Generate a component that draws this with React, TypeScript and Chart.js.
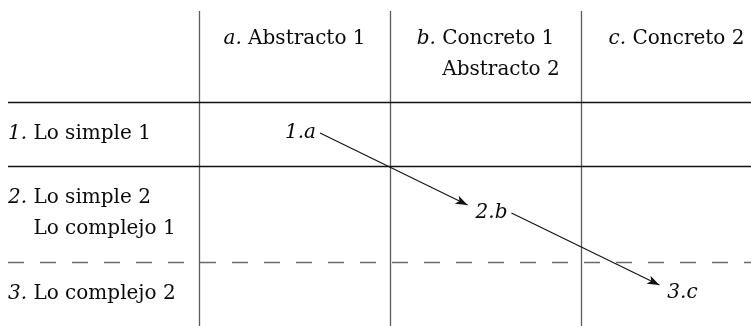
import { useEffect, useRef } from "react";
import { Chart, registerables } from "chart.js";

Chart.register(...registerables);

// ---- data ----
const columnMarks = ["a.", "b.", "c."];
const columnTitles = [["Abstracto 1"], ["Concreto 1", "Abstracto 2"], ["Concreto 2"]];
const rowMarks = ["1.", "2.", "3."];
const rowTitles = [["Lo simple 1"], ["Lo simple 2", "Lo complejo 1"], ["Lo complejo 2"]];
const pathLabels = ["1.a", "2.b", "3.c"];
const pathRows = [0, 1, 2];
const pathCols = [0, 1, 2];
const dashedAboveRow = 2;

// ---- layout ----
const W = 751;
const H = 326;
const LEFT = 8;
const COL_W = 191;
const LINE_H = 31;
const ROW_BASE = 64;
const ROW_EXTRA = 32;
const FIRST_BASE = 36.5;
const FONT_SIZE = 20;
const FAMILY = '"DejaVu Serif", serif';

const headerLines = Math.max(...columnTitles.map((t) => t.length));
const rowHeights = [headerLines, ...rowTitles.map((t) => t.length)].map(
  (n) => ROW_BASE + ROW_EXTRA * (n - 1)
);
const totalH = rowHeights.reduce((a, b) => a + b, 0);
const TOP = H - totalH;
const rowEdges: number[] = [TOP];
rowHeights.forEach((h) => rowEdges.push(rowEdges[rowEdges.length - 1] + h));

const X_MIN = -LEFT / COL_W;
const X_MAX = (W - LEFT) / COL_W;

const tablePlugin = {
  id: "tablePlugin",
  afterDraw(chart: any) {
    const ctx: CanvasRenderingContext2D = chart.ctx;
    const xs = chart.scales.x;
    const ys = chart.scales.y;
    const px = (v: number) => xs.getPixelForValue(v);
    const py = (v: number) => ys.getPixelForValue(v);
    const reg = `${FONT_SIZE}px ${FAMILY}`;
    const ita = `italic ${FONT_SIZE}px ${FAMILY}`;
    const ink = "#0a0a0a";

    ctx.save();
    // vertical lines
    ctx.strokeStyle = "#5c5c5c";
    ctx.lineWidth = 1.3;
    for (let k = 1; k <= columnMarks.length; k++) {
      const x = Math.round(px(k)) + 0.5;
      ctx.beginPath();
      ctx.moveTo(x, py(rowEdges[0] + 5));
      ctx.lineTo(x, py(H));
      ctx.stroke();
    }
    // horizontal lines
    for (let r = 1; r < rowEdges.length - 1; r++) {
      const y = Math.round(py(rowEdges[r])) + 0.5;
      const dashed = r - 1 === dashedAboveRow;
      ctx.beginPath();
      if (dashed) {
        ctx.setLineDash([16, 16]);
        ctx.strokeStyle = "#6a6a6a";
        ctx.lineWidth = 1.5;
      } else {
        ctx.setLineDash([]);
        ctx.strokeStyle = "#111";
        ctx.lineWidth = 1.3;
      }
      ctx.moveTo(px(0), y);
      ctx.lineTo(px(X_MAX), y);
      ctx.stroke();
    }
    ctx.setLineDash([]);

    ctx.fillStyle = ink;
    ctx.textBaseline = "alphabetic";
    ctx.textAlign = "left";

    const topBaselines = (top: number, n: number) => {
      const first = py(top) + FIRST_BASE;
      return Array.from({ length: n }, (_, i) => first + i * LINE_H);
    };

    // column headers (top aligned)
    columnMarks.forEach((m, i) => {
      const lines = columnTitles[i];
      ctx.font = ita;
      const mw = ctx.measureText(m + " ").width;
      ctx.font = reg;
      const lw = ctx.measureText(lines[0]).width;
      const cx = px(i + 1.5);
      const x0 = cx - (mw + lw) / 2;
      const bl = topBaselines(rowEdges[0] + 1.5, lines.length);
      ctx.font = ita;
      ctx.fillText(m, x0, bl[0]);
      ctx.font = reg;
      lines.forEach((t, j) => ctx.fillText(t, x0 + mw, bl[j]));
    });

    // row headers (top aligned)
    rowMarks.forEach((m, i) => {
      const lines = rowTitles[i];
      ctx.font = ita;
      const mw = ctx.measureText(m + " ").width;
      const x0 = px(0);
      const bl = topBaselines(rowEdges[i + 1], lines.length);
      ctx.fillText(m, x0, bl[0]);
      ctx.font = reg;
      lines.forEach((t, j) => ctx.fillText(t, x0 + mw, bl[j]));
    });

    // path labels (centered in their cell)
    ctx.font = ita;
    const meta = chart.getDatasetMeta(0);
    const boxes = pathLabels.map((lab, i) => {
      const pt = meta.data[i];
      const w = ctx.measureText(lab).width;
      const x = pt.x + 6 - w / 2;
      const b = pt.y + 4;
      ctx.fillText(lab, x, b);
      return { l: x, r: x + w, b };
    });

    // arrows
    ctx.strokeStyle = "#111";
    ctx.fillStyle = "#111";
    ctx.lineWidth = 1.1;
    for (let i = 0; i < boxes.length - 1; i++) {
      const a = boxes[i];
      const c = boxes[i + 1];
      const sx = a.r + 4;
      const sy = a.b - 5;
      const ex = c.l - 8;
      const ey = c.b - 13;
      ctx.beginPath();
      ctx.moveTo(sx, sy);
      ctx.lineTo(ex, ey);
      ctx.stroke();
      const ang = Math.atan2(ey - sy, ex - sx);
      const L = 12;
      const Wd = 4.5;
      ctx.beginPath();
      ctx.moveTo(ex, ey);
      ctx.lineTo(ex - L * Math.cos(ang) + Wd * Math.sin(ang), ey - L * Math.sin(ang) - Wd * Math.cos(ang));
      ctx.lineTo(ex - L * 0.75 * Math.cos(ang), ey - L * 0.75 * Math.sin(ang));
      ctx.lineTo(ex - L * Math.cos(ang) - Wd * Math.sin(ang), ey - L * Math.sin(ang) + Wd * Math.cos(ang));
      ctx.closePath();
      ctx.fill();
    }
    ctx.restore();
  },
};

export default function App() {
  const ref = useRef<HTMLCanvasElement | null>(null);
  useEffect(() => {
    if (!ref.current) return;
    const points = pathLabels.map((_, i) => ({
      x: pathCols[i] + 1.5,
      y: (rowEdges[pathRows[i] + 1] + rowEdges[pathRows[i] + 2]) / 2,
    }));
    const chart = new Chart(ref.current, {
      type: "scatter",
      data: {
        datasets: [
          {
            data: points,
            pointRadius: 0,
            showLine: false,
          },
        ],
      },
      options: {
        animation: false,
        responsive: false,
        events: [],
        layout: { padding: 0 },
        plugins: { legend: { display: false }, tooltip: { enabled: false } },
        scales: {
          x: { type: "linear", min: X_MIN, max: X_MAX, display: false },
          y: { type: "linear", min: 0, max: H, reverse: true, display: false },
        },
      },
      plugins: [tablePlugin],
    });
    return () => chart.destroy();
  }, []);
  return (
    <div style={{ position: "absolute", left: 0, top: 0, width: W, height: H, background: "#fff" }}>
      <canvas ref={ref} width={W} height={H} style={{ width: W, height: H, display: "block" }} />
    </div>
  );
}
